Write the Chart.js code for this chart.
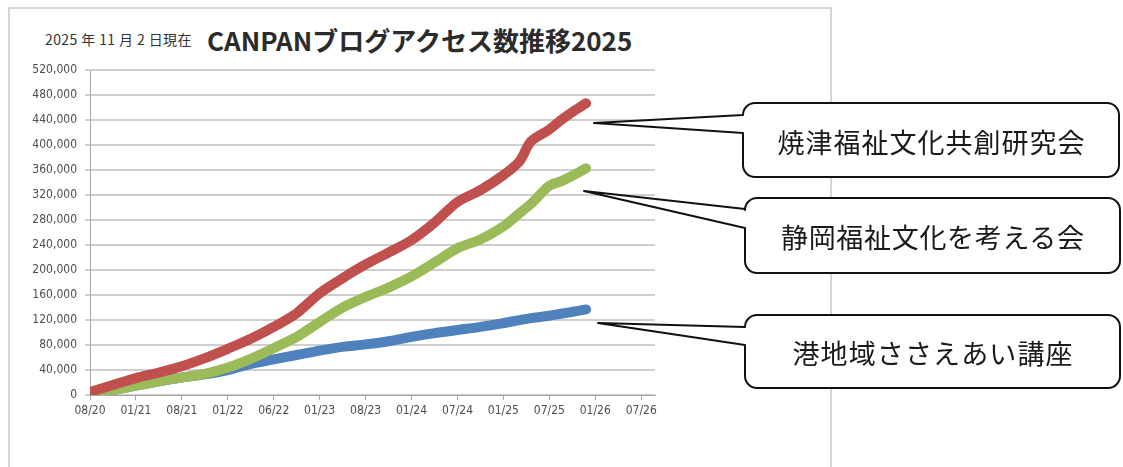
<!DOCTYPE html>
<html lang="ja">

<head>
    <meta charset="UTF-8" />
    <title>CANPANブログアクセス数推移2025</title>
    <style>
        body {
            margin: 0;
            width: 1123px;
            height: 467px;
            background: #fff;
            position: relative;
            overflow: hidden;
            font-family: "Noto Sans CJK JP", sans-serif;
        }

        .panel {
            position: absolute;
            left: 8px;
            top: 7px;
            width: 824px;
            height: 480px;
            border: 2px solid #d6d6d6;
            box-sizing: border-box;
        }

        .sub-title {
            position: absolute;
            left: 45px;
            top: 32px;
            font-size: 14px;
            line-height: 1;
            color: #333;
            letter-spacing: 0.4px;
        }

        .main-title {
            position: absolute;
            left: 207px;
            top: 27px;
            font-size: 26px;
            line-height: 1;
            font-weight: bold;
            color: #2b2b2b;
        }

        .chart-box {
            position: absolute;
            left: 10px;
            top: 55px;
            width: 680px;
            height: 380px;
        }

        #callouts {
            position: absolute;
            left: 0;
            top: 0;
        }
    </style>
</head>

<body>
    <div class="panel"></div>
    <div class="sub-title">2025 年 11 月 2 日現在</div>
    <div class="main-title">CANPANブログアクセス数推移2025</div>
    <div class="chart-box">
        <canvas id="accessChart" width="680" height="380"></canvas>
    </div>
    <svg id="callouts" width="1123" height="467"></svg>
</body>
<script src="https://cdn.jsdelivr.net/npm/chart.js"></script>
<script>
    // x axis labels (one per major tick)
    const xLabels = ['08/20', '01/21', '08/21', '01/22', '06/22', '01/23', '08/23', '01/24', '07/24', '01/25', '07/25', '01/26', '07/26'];

    // sample positions, in tick units (0 = 08/20, 1 = 01/21 ...)
    const xPos = [0, 0.5, 1, 1.5, 2, 2.5, 3, 3.5, 4, 4.5, 5, 5.5, 6, 6.5, 7, 7.5, 8, 8.5, 9, 9.35, 9.6, 10, 10.25, 10.5, 10.8];

    const seriesNames = ['焼津福祉文化共創研究会', '静岡福祉文化を考える会', '港地域ささえあい講座'];

    // cumulative access counts
    const yaizuValues = [5000, 16000, 27000, 36000, 46000, 59000, 74000, 90000, 109000, 131000, 163000, 187000, 209000, 228000, 248000, 276000, 309000, 328000, 352000, 374000, 406000, 425000, 440000, 453000, 467000];
    const shizuokaValues = [3000, 8000, 15000, 22000, 28000, 34000, 44000, 58000, 75000, 93000, 117000, 140000, 157000, 172000, 190000, 212000, 235000, 249000, 270000, 291000, 306000, 335000, 342000, 351000, 363000];
    const minatoValues = [3000, 8000, 15000, 22000, 28000, 33000, 40000, 50000, 57000, 64000, 71000, 77000, 81000, 86000, 93000, 99000, 104000, 109000, 115000, 120000, 123000, 127000, 130000, 133000, 137000];

    const yMax = 520000;
    const yStep = 40000;

    const seriesColors = ['#c0504d', '#9bbb59', '#4f81bd'];

    function toPoints(values) {
        return xPos.map((x, i) => ({ x: x, y: values[i] }));
    }

    const tickFont = { family: '"DejaVu Sans Condensed", "Liberation Sans", sans-serif', size: 12 };

    new Chart(document.getElementById('accessChart'), {
        type: 'line',
        data: {
            datasets: [
                { label: seriesNames[0], data: toPoints(yaizuValues), borderColor: seriesColors[0] },
                { label: seriesNames[1], data: toPoints(shizuokaValues), borderColor: seriesColors[1] },
                { label: seriesNames[2], data: toPoints(minatoValues), borderColor: seriesColors[2] }
            ]
        },
        options: {
            responsive: false,
            animation: false,
            layout: { padding: { left: 0, right: 35, top: 15, bottom: 10 } },
            elements: {
                line: { borderWidth: 10, tension: 0.3, fill: false, borderCapStyle: 'round', borderJoinStyle: 'round' },
                point: { radius: 0 }
            },
            plugins: {
                legend: { display: false },
                tooltip: { enabled: false }
            },
            scales: {
                x: {
                    type: 'linear',
                    min: 0,
                    max: 12.3,
                    border: { display: true, color: '#a6a6a6', width: 1 },
                    grid: { drawOnChartArea: false, drawTicks: true, tickLength: 5, color: '#a6a6a6' },
                    ticks: {
                        stepSize: 1,
                        includeBounds: false,
                        autoSkip: false,
                        maxRotation: 0,
                        padding: 4,
                        color: '#4d4d4d',
                        font: tickFont,
                        callback: (v) => Number.isInteger(v) ? (xLabels[v] || '') : ''
                    },
                    afterFit: (scale) => { scale.height = 30; }
                },
                y: {
                    min: 0,
                    max: yMax,
                    border: { display: true, color: '#a6a6a6', width: 1 },
                    grid: { color: '#cfcfcf', lineWidth: 2, tickLength: 5 },
                    ticks: {
                        stepSize: yStep,
                        padding: 8,
                        color: '#4d4d4d',
                        font: tickFont,
                        callback: (v) => v.toLocaleString('en-US')
                    },
                    afterFit: (scale) => { scale.width = 80; }
                }
            }
        }
    });

    // callout boxes beside the line ends
    const callouts = [
        { x: 743, y: 103, w: 376, h: 74, tipX: 594, tipY: 123, b1: 115, b2: 133, textW: 307 },
        { x: 745, y: 198, w: 375, h: 75, tipX: 584, tipY: 191, b1: 209, b2: 228, textW: 303 },
        { x: 745, y: 315, w: 375, h: 73, tipX: 598, tipY: 323, b1: 327, b2: 345, textW: 280 }
    ];

    function calloutPath(c, r) {
        return `M${c.x + r},${c.y} H${c.x + c.w - r} A${r},${r} 0 0 1 ${c.x + c.w},${c.y + r} ` +
            `V${c.y + c.h - r} A${r},${r} 0 0 1 ${c.x + c.w - r},${c.y + c.h} H${c.x + r} ` +
            `A${r},${r} 0 0 1 ${c.x},${c.y + c.h - r} V${c.b2} L${c.tipX},${c.tipY} L${c.x},${c.b1} ` +
            `V${c.y + r} A${r},${r} 0 0 1 ${c.x + r},${c.y} Z`;
    }

    let svgHtml = '';
    callouts.forEach((c, i) => {
        svgHtml += `<path d="${calloutPath(c, 12)}" fill="#fff" stroke="#111" stroke-width="2" stroke-linejoin="round"/>`;
        svgHtml += `<text x="${c.x + c.w / 2}" y="${c.y + c.h / 2 + 1}" text-anchor="middle" dominant-baseline="central" ` +
            `font-family="Noto Sans CJK JP, sans-serif" font-size="27" fill="#1a1a1a" textLength="${c.textW}" lengthAdjust="spacing">${seriesNames[i]}</text>`;
    });
    document.getElementById('callouts').innerHTML = svgHtml;
</script>

</html>
